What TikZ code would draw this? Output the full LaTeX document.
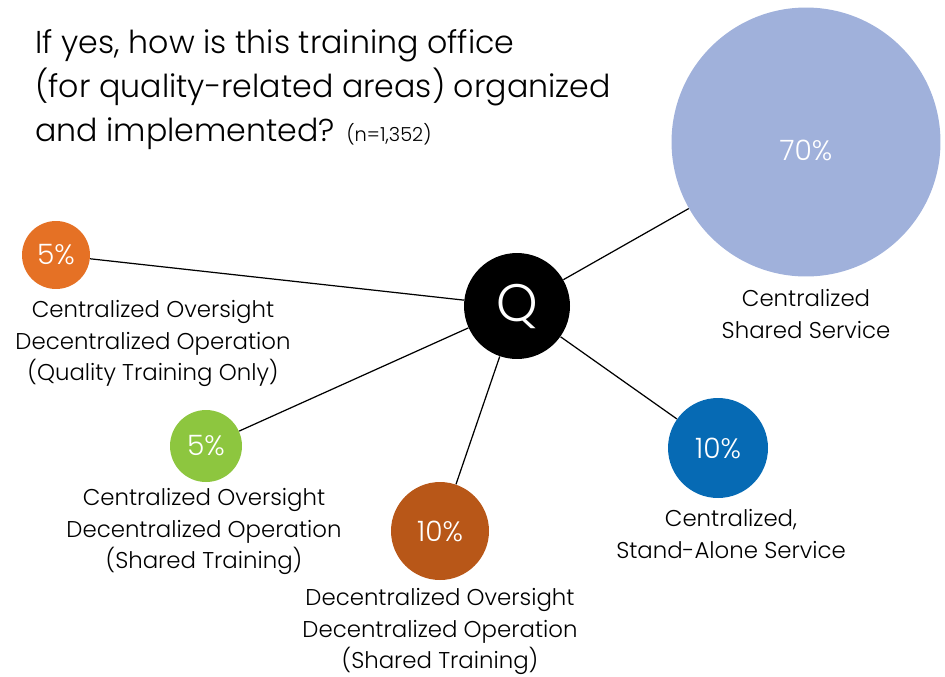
\documentclass[tikz,border=0pt]{standalone}
\usepackage{fontspec}
\setmainfont{Poppins}[UprightFont=* Light]
\usepackage{xcolor}
\usetikzlibrary{positioning, calc}
\definecolor{sharedblue}{HTML}{A0B1DB}
\definecolor{qualorange}{HTML}{E57125}
\definecolor{sharedgreen}{HTML}{8DC63F}
\definecolor{decbrown}{HTML}{B85718}
\definecolor{aloneblue}{HTML}{066AB4}
\tikzset{
	bubble/.style={circle, fill=#1, inner sep=0pt, text=white, font=\fontsize{16}{18}\selectfont},
	caption/.style={align=center, inner sep=0pt, anchor=north, font=\fontsize{13}{18}\selectfont},
	link/.style={draw, line width=0.7pt}
}

\begin{document}
\begin{tikzpicture}[x=0.02cm, y=-0.02cm]
	\useasboundingbox (0,0) rectangle (945,676);
	
	% Question as title
	\node[anchor=north west, align=left, inner sep=0pt, font=\fontsize{18}{25}\selectfont] (title) at (35,29)
		{If yes, how is this training office\\(for quality-related areas) organized\\and implemented? {\fontsize{11}{12}\selectfont(n=1,352)}};
	
	% Bubbles (center Q and the shares)
	\node[bubble=black, minimum size=2.12cm, font=\fontsize{30}{32}\selectfont] (q) at (517,306) {Q};
	\node[bubble=sharedblue, minimum size=5.38cm] (shared) at (806,142) {};
	\node[text=white, font=\fontsize{16}{18}\selectfont] (sharedpct) at (806,150) {70\%};
	\node[bubble=qualorange, minimum size=1.36cm] (quality) at (56,255) {5\%};
	\node[bubble=sharedgreen, minimum size=1.44cm] (sharedtr) at (206,446) {5\%};
	\node[bubble=decbrown, minimum size=1.96cm] (decent) at (440,531) {10\%};
	\node[bubble=aloneblue, minimum size=2cm] (alone) at (718,448) {10\%};
	
	% Spokes from Q
	\draw[link] (q) -- (shared);
	\draw[link] (q) -- (quality);
	\draw[link] (q) -- (sharedtr);
	\draw[link] (q) -- (decent);
	\draw[link] (q) -- (alone);
	
	% Captions under the bubbles
	\node[caption] (sharedcap) at (806,289) {Centralized\\Shared Service};
	\node[caption] (qualitycap) at (153,300) {Centralized Oversight\\Decentralized Operation\\(Quality Training Only)};
	\node[caption] (sharedtrcap) at (204,488) {Centralized Oversight\\Decentralized Operation\\(Shared Training)};
	\node[caption] (decentcap) at (440,588) {Decentralized Oversight\\Decentralized Operation\\(Shared Training)};
	\node[caption] (alonecap) at (731,509) {Centralized,\\Stand-Alone Service};
\end{tikzpicture}
\end{document}
